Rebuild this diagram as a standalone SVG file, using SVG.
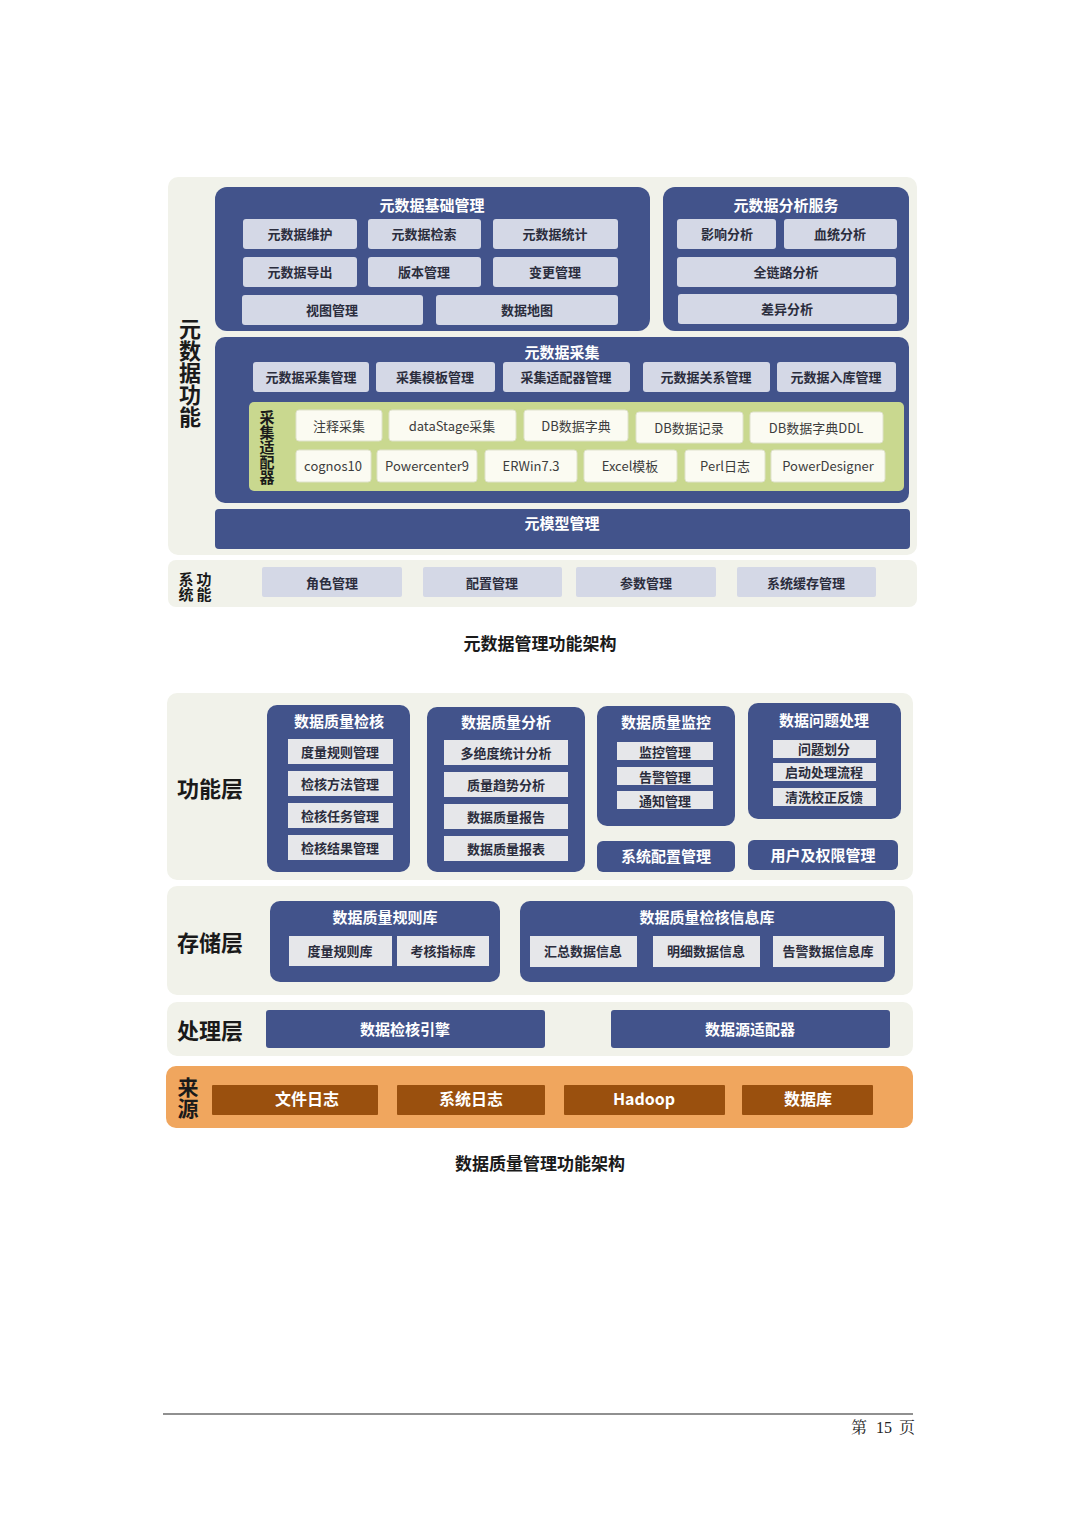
<svg xmlns="http://www.w3.org/2000/svg" width="1080" height="1528" viewBox="0 0 1080 1528">
<style>
text{font-family:"Noto Sans CJK SC","Noto Sans",sans-serif;text-anchor:middle;dominant-baseline:central}
.vt{writing-mode:vertical-rl;text-anchor:start;font-weight:bold;fill:#1a1a1a}
.panel{fill:#f1f2ea}
.blue{fill:#42538b}
.lt{fill:#d4d8e6}
.it{fill:#e6e7ea}
.t{font-size:13px;font-weight:bold;fill:#2b2d3d}
.w{font-size:15px;font-weight:bold;fill:#ffffff}
.wb{font-size:16px;font-weight:bold;fill:#ffffff}
.lab{font-size:22px;font-weight:bold;fill:#1a1a1a}
.ad{fill:#fbfbf2;stroke:#dfe2cc;stroke-width:1}
.at{font-size:13px;fill:#3d3d3d}
.cap{font-size:17px;font-weight:bold;fill:#1a1a1a}
.brown{fill:#9a500e}
</style>
<rect width="1080" height="1528" fill="#ffffff"/>

<!-- Diagram 1 -->
<g id="d1-bg">
<rect x="168" y="177" width="749" height="378" rx="10" class="panel"/>
<rect x="168" y="560" width="749" height="47" rx="8" class="panel"/>
</g>
<g id="d1-label">
<text x="190" y="318" class="vt" style="font-size:22px">元数据功能</text>
</g>

<g id="base-mgmt">
<rect x="215" y="187" width="435" height="144" rx="12" class="blue"/>
<text x="432" y="204" class="w">元数据基础管理</text>
<rect x="243" y="219" width="114" height="30" rx="3" class="lt"/><text x="300" y="233" class="t">元数据维护</text>
<rect x="368" y="219" width="113" height="30" rx="3" class="lt"/><text x="424" y="233" class="t">元数据检索</text>
<rect x="493" y="219" width="125" height="30" rx="3" class="lt"/><text x="555" y="233" class="t">元数据统计</text>
<rect x="243" y="257" width="114" height="30" rx="3" class="lt"/><text x="300" y="271" class="t">元数据导出</text>
<rect x="368" y="257" width="113" height="30" rx="3" class="lt"/><text x="424" y="271" class="t">版本管理</text>
<rect x="493" y="257" width="125" height="30" rx="3" class="lt"/><text x="555" y="271" class="t">变更管理</text>
<rect x="242" y="295" width="181" height="30" rx="3" class="lt"/><text x="332" y="309" class="t">视图管理</text>
<rect x="436" y="295" width="182" height="30" rx="3" class="lt"/><text x="527" y="309" class="t">数据地图</text>
</g>

<g id="analysis">
<rect x="663" y="187" width="246" height="144" rx="12" class="blue"/>
<text x="786" y="204" class="w">元数据分析服务</text>
<rect x="677" y="219" width="99" height="30" rx="3" class="lt"/><text x="727" y="233" class="t">影响分析</text>
<rect x="784" y="219" width="113" height="30" rx="3" class="lt"/><text x="840" y="233" class="t">血统分析</text>
<rect x="677" y="257" width="219" height="30" rx="3" class="lt"/><text x="786" y="271" class="t">全链路分析</text>
<rect x="678" y="294" width="219" height="30" rx="3" class="lt"/><text x="787" y="308" class="t">差异分析</text>
</g>

<g id="collect">
<rect x="215" y="337" width="694" height="166" rx="10" class="blue"/>
<text x="562" y="351" class="w">元数据采集</text>
<rect x="253" y="362" width="116" height="30" rx="3" class="lt"/><text x="311" y="376" class="t">元数据采集管理</text>
<rect x="376" y="362" width="119" height="30" rx="3" class="lt"/><text x="435" y="376" class="t">采集模板管理</text>
<rect x="503" y="362" width="127" height="30" rx="3" class="lt"/><text x="566" y="376" class="t">采集适配器管理</text>
<rect x="643" y="362" width="127" height="30" rx="3" class="lt"/><text x="706" y="376" class="t">元数据关系管理</text>
<rect x="777" y="362" width="119" height="30" rx="3" class="lt"/><text x="836" y="376" class="t">元数据入库管理</text>
</g>

<g id="adapters">
<rect x="249" y="402" width="655" height="89" rx="5" fill="#c9d88f"/>
<text x="267" y="410" class="vt" style="font-size:15px">采集适配器</text>
<rect x="296" y="410" width="86" height="31" rx="3" class="ad"/><text x="339" y="425" class="at">注释采集</text>
<rect x="389" y="410" width="127" height="31" rx="3" class="ad"/><text x="452" y="425" class="at">dataStage采集</text>
<rect x="524" y="410" width="104" height="31" rx="3" class="ad"/><text x="576" y="425" class="at">DB数据字典</text>
<rect x="636" y="412" width="107" height="31" rx="3" class="ad"/><text x="689" y="427" class="at">DB数据记录</text>
<rect x="750" y="412" width="133" height="31" rx="3" class="ad"/><text x="816" y="427" class="at">DB数据字典DDL</text>
<rect x="296" y="450" width="75" height="32" rx="3" class="ad"/><text x="333" y="465" class="at">cognos10</text>
<rect x="377" y="450" width="100" height="32" rx="3" class="ad"/><text x="427" y="465" class="at">Powercenter9</text>
<rect x="485" y="450" width="92" height="32" rx="3" class="ad"/><text x="531" y="465" class="at">ERWin7.3</text>
<rect x="584" y="450" width="93" height="32" rx="3" class="ad"/><text x="630" y="465" class="at">Excel模板</text>
<rect x="685" y="450" width="80" height="32" rx="3" class="ad"/><text x="725" y="465" class="at">Perl日志</text>
<rect x="771" y="450" width="114" height="32" rx="3" class="ad"/><text x="828" y="465" class="at">PowerDesigner</text>
</g>

<g id="metamodel">
<rect x="215" y="509" width="695" height="40" rx="4" class="blue"/>
<text x="562" y="522" class="w">元模型管理</text>
</g>

<g id="sysfunc">
<text x="186" y="572" class="vt" style="font-size:15px">系统</text>
<text x="204" y="572" class="vt" style="font-size:15px">功能</text>
<rect x="262" y="567" width="140" height="30" rx="2" class="lt"/><text x="332" y="582" class="t">角色管理</text>
<rect x="423" y="567" width="139" height="30" rx="2" class="lt"/><text x="492" y="582" class="t">配置管理</text>
<rect x="576" y="567" width="140" height="30" rx="2" class="lt"/><text x="646" y="582" class="t">参数管理</text>
<rect x="737" y="567" width="139" height="30" rx="2" class="lt"/><text x="806" y="582" class="t">系统缓存管理</text>
</g>

<text x="540" y="642" class="cap">元数据管理功能架构</text>

<!-- Diagram 2 -->
<g id="func-layer">
<rect x="167" y="693" width="746" height="187" rx="10" class="panel"/>
<text x="210" y="787" class="lab">功能层</text>
</g>
<g id="dq-check">
<rect x="267" y="705" width="143" height="167" rx="10" class="blue"/>
<text x="339" y="720" class="w">数据质量检核</text>
<rect x="288" y="739" width="105" height="25" class="it"/><text x="340" y="751" class="t">度量规则管理</text>
<rect x="288" y="771" width="105" height="25" class="it"/><text x="340" y="783" class="t">检核方法管理</text>
<rect x="288" y="803" width="105" height="25" class="it"/><text x="340" y="815" class="t">检核任务管理</text>
<rect x="288" y="835" width="105" height="25" class="it"/><text x="340" y="847" class="t">检核结果管理</text>
</g>
<g id="dq-analysis">
<rect x="427" y="707" width="158" height="165" rx="10" class="blue"/>
<text x="506" y="721" class="w">数据质量分析</text>
<rect x="444" y="740" width="124" height="25" class="it"/><text x="506" y="752" class="t">多绝度统计分析</text>
<rect x="444" y="772" width="124" height="25" class="it"/><text x="506" y="784" class="t">质量趋势分析</text>
<rect x="444" y="804" width="124" height="25" class="it"/><text x="506" y="816" class="t">数据质量报告</text>
<rect x="444" y="836" width="124" height="25" class="it"/><text x="506" y="848" class="t">数据质量报表</text>
</g>
<g id="dq-monitor">
<rect x="597" y="706" width="138" height="120" rx="10" class="blue"/>
<text x="666" y="721" class="w">数据质量监控</text>
<rect x="617" y="742" width="96" height="18" class="it"/><text x="665" y="751" class="t">监控管理</text>
<rect x="617" y="767" width="96" height="18" class="it"/><text x="665" y="776" class="t">告警管理</text>
<rect x="617" y="791" width="96" height="18" class="it"/><text x="665" y="800" class="t">通知管理</text>
</g>
<g id="dq-issue">
<rect x="748" y="703" width="153" height="116" rx="10" class="blue"/>
<text x="824" y="719" class="w">数据问题处理</text>
<rect x="773" y="740" width="103" height="18" class="it"/><text x="824" y="748" class="t">问题划分</text>
<rect x="773" y="763" width="103" height="18" class="it"/><text x="824" y="771" class="t">启动处理流程</text>
<rect x="773" y="788" width="103" height="18" class="it"/><text x="824" y="796" class="t">清洗校正反馈</text>
</g>
<g id="sys-config">
<rect x="597" y="841" width="138" height="31" rx="6" class="blue"/>
<text x="666" y="855" class="w">系统配置管理</text>
</g>
<g id="user-auth">
<rect x="748" y="840" width="150" height="30" rx="6" class="blue"/>
<text x="823" y="854" class="w">用户及权限管理</text>
</g>

<g id="storage-layer">
<rect x="167" y="886" width="746" height="109" rx="10" class="panel"/>
<text x="210" y="941" class="lab">存储层</text>
</g>
<g id="rule-lib">
<rect x="270" y="901" width="230" height="81" rx="10" class="blue"/>
<text x="385" y="916" class="w">数据质量规则库</text>
<rect x="289" y="936" width="103" height="30" class="it"/><text x="340" y="950" class="t">度量规则库</text>
<rect x="397" y="936" width="92" height="30" class="it"/><text x="443" y="950" class="t">考核指标库</text>
</g>
<g id="check-lib">
<rect x="520" y="901" width="375" height="81" rx="10" class="blue"/>
<text x="707" y="916" class="w">数据质量检核信息库</text>
<rect x="530" y="936" width="107" height="31" class="it"/><text x="583" y="950" class="t">汇总数据信息</text>
<rect x="653" y="936" width="107" height="31" class="it"/><text x="706" y="950" class="t">明细数据信息</text>
<rect x="773" y="936" width="111" height="31" class="it"/><text x="828" y="950" class="t">告警数据信息库</text>
</g>

<g id="proc-layer">
<rect x="167" y="1002" width="746" height="54" rx="10" class="panel"/>
<text x="210" y="1029" class="lab">处理层</text>
</g>
<g id="engine">
<rect x="266" y="1010" width="279" height="38" rx="3" class="blue"/>
<text x="405" y="1028" class="w">数据检核引擎</text>
</g>
<g id="ds-adapter">
<rect x="611" y="1010" width="279" height="38" rx="3" class="blue"/>
<text x="750" y="1028" class="w">数据源适配器</text>
</g>

<g id="source-layer">
<rect x="166" y="1066" width="747" height="62" rx="10" fill="#f0a65e"/>
<text x="188" y="1077" class="vt" style="font-size:21px">来源</text>
</g>
<g id="src-file"><rect x="212" y="1085" width="166" height="30" rx="1" class="brown"/><text x="307" y="1098" class="wb">文件日志</text></g>
<g id="src-sys"><rect x="397" y="1085" width="148" height="30" rx="1" class="brown"/><text x="471" y="1098" class="wb">系统日志</text></g>
<g id="src-hadoop"><rect x="564" y="1085" width="161" height="30" rx="1" class="brown"/><text x="644" y="1098" class="wb">Hadoop</text></g>
<g id="src-db"><rect x="742" y="1085" width="131" height="30" rx="1" class="brown"/><text x="808" y="1098" class="wb">数据库</text></g>

<text x="540" y="1162" class="cap">数据质量管理功能架构</text>

<g id="footer">
<line x1="163" y1="1414" x2="913" y2="1414" stroke="#222" stroke-width="1.2"/>
<text style="font-family:'Liberation Serif','Noto Serif CJK SC','Noto Sans CJK SC',serif;font-size:16px;fill:#222"><tspan x="859" y="1427">第</tspan><tspan x="884" y="1427">15</tspan><tspan x="907" y="1427">页</tspan></text>
</g>
</svg>
